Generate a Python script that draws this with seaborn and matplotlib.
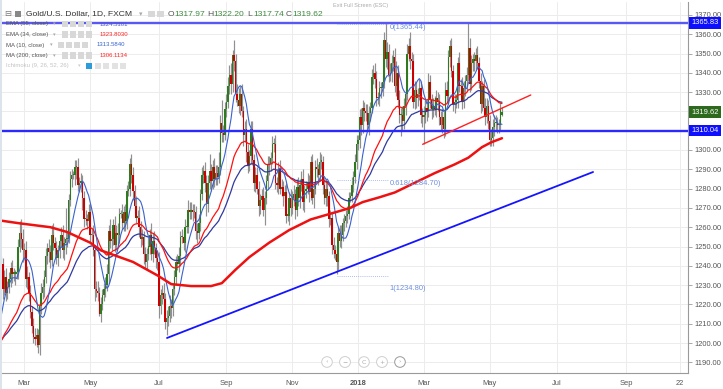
import numpy as np
import pandas as pd
import matplotlib
matplotlib.use("Agg")
import matplotlib.pyplot as plt
import matplotlib.transforms as mtrans
from matplotlib.patches import Rectangle
import seaborn as sns

# ---------------- data (daily closes, FXCM Gold/USD) ----------------
c_2016_10 = [1312,1268,1267,1253,1257, 1259,1253,1255,1257,1251, 1257,1262,1269,1264,1267, 1263,1273,1266,1268,1275, 1277]
c_2016_11 = [1288,1297,1302,1304, 1280,1275,1274,1265,1225, 1222,1225,1226,1216,1208, 1213,1212,1187,1184,1178, 1192,1188,1173]
c_2016_12 = [1170,1177, 1167,1170,1173,1171,1160, 1158,1160,1142,1128,1134, 1139,1132,1131,1130,1133, 1134,1139,1141,1158,1151]
c_2017_01 = [1161,1162,1165,1181,1172, 1184,1185,1196,1197,1196, 1203,1217,1212,1202,1210, 1217,1210,1198,1188,1191, 1195,1210]
c_2017_02 = [1210,1220,1220, 1235,1236,1241,1228,1234, 1226,1229,1233,1239,1236, 1236,1236,1237,1250,1257, 1254,1248]
c_2017_03 = [1248,1233,1234, 1226,1216,1209,1203,1202, 1204,1199,1219,1226,1229, 1234,1245,1249,1247,1243, 1256,1252,1249,1244,1248]
c_2017_04 = [1253,1256,1248,1252,1254, 1254,1274,1285,1287,1287, 1291,1291,1282,1283,1284, 1275,1264,1264,1263,1268]
c_2017_05 = [1256,1256,1248,1228,1227, 1226,1215,1220,1225,1228, 1230,1236,1258,1253,1254, 1261,1251,1257,1256,1267, 1267,1262,1268]
c_2017_06 = [1263,1279, 1280,1293,1287,1279,1271, 1265,1265,1260,1254,1255, 1246,1242,1246,1250,1256, 1246,1253,1249,1244,1242]
c_2017_07 = [1219,1225,1226,1223,1211, 1213,1214,1219,1218,1228, 1234,1242,1241,1245,1255, 1255,1252,1260,1260,1269, 1268]
c_2017_08 = [1269,1268,1268,1258, 1257,1262,1277,1287,1289, 1283,1272,1283,1289,1284, 1291,1285,1288,1286,1291, 1314,1309,1308,1321]
c_2017_09 = [1325, 1333,1339,1334,1349,1346, 1329,1326,1323,1329,1320, 1308,1311,1299,1292,1297, 1311,1295,1283,1287,1280]
c_2017_10 = [1271,1274,1276,1269,1275, 1284,1292,1293,1296,1303, 1303,1283,1282,1290,1280, 1281,1276,1278,1266,1266, 1275,1270]
c_2017_11 = [1275,1277,1269, 1281,1275,1282,1285,1273, 1279,1280,1283,1278,1294, 1275,1280,1291,1290,1287, 1294,1294,1282,1275]
c_2017_12 = [1280, 1276,1264,1265,1251,1248, 1246,1242,1257,1253,1256, 1262,1263,1266,1267,1275, 1276,1282,1286,1294,1303]
c_2018_01 = [1305,1317,1313,1322,1320, 1319,1313,1319,1322,1338, 1340,1337,1327,1327,1332, 1332,1335,1357,1347,1351, 1339,1340,1345]
c_2018_02 = [1348,1333, 1340,1326,1318,1318,1315, 1323,1329,1350,1354,1347, 1346,1325,1331,1327,1329, 1332,1318,1317]
c_2018_03 = [1318,1322, 1320,1335,1326,1321,1323, 1321,1327,1325,1317,1313, 1317,1311,1331,1328,1348, 1354,1341,1324,1325,1326]
c_2018_04 = [1345,1333,1333,1325,1332, 1336,1339,1353,1334,1345, 1347,1346,1349,1345,1336, 1324,1333,1322,1317,1323, 1315]
c_2018_05 = [1305,1306,1312,1314, 1314,1313,1313,1321,1319.62]

# upper / lower wick lengths (visible bars, Feb 2017 onward)
uw_2017_02 = [3,4,5,3,5,4,3,4,5,3,4,3,4,3,2,5,4,6,7,5]
lw_2017_02 = [4,3,5,3,4,3,5,3,4,3,3,4,5,4,6,3,4,3,5,6]
uw_2017_03 = [4,5,6,3,4,3,4,5,4,3,3,5,4,4,4,3,5,4,5,6,3,4,3]
lw_2017_03 = [5,4,5,4,3,4,3,3,4,4,5,4,3,5,3,4,5,4,3,4,5,3,4]
uw_2017_04 = [3,4,5,3,16,4,3,4,3,2,4,4,5,3,4,3,4,5,3,4]
lw_2017_04 = [4,3,4,5,6,4,2,3,4,2,5,6,3,4,5,6,4,3,4,3]
uw_2017_05 = [4,3,5,3,4,5,3,4,3,3,4,5,3,6,4,3,5,4,5,3,2,5,3]
lw_2017_05 = [4,5,3,6,3,4,1,4,3,3,4,3,5,4,5,3,4,3,5,4,2,3,4]
uw_2017_06 = [4,3,4,3,5,4,3,5,4,6,3,4,3,4,3,5,3,6,4,5,3,4]
lw_2017_06 = [5,4,3,4,4,5,4,3,4,5,4,3,5,3,4,3,4,3,4,3,5,4]
uw_2017_07 = [5,3,4,5,3,4,5,6,4,3,4,3,4,5,3,4,3,4,3,5,4]
lw_2017_07 = [6,4,5,4,4,7,4,3,5,4,3,4,3,4,5,3,4,5,3,3,4]
uw_2017_08 = [4,3,4,3,4,5,3,4,3,5,4,4,9,4,4,5,4,4,8,4,12,4,4]
lw_2017_08 = [4,5,3,4,5,3,4,3,4,5,6,4,3,5,4,4,3,4,3,4,5,4,3]
uw_2017_09 = [4,5,5,6,3,8,4,5,6,4,5,3,4,5,4,3,4,4,3,4,4]
lw_2017_09 = [4,3,4,5,4,5,4,3,4,5,3,6,4,5,4,3,4,3,4,5,3]
uw_2017_10 = [4,3,4,5,4,3,5,4,3,4,3,5,3,4,5,4,3,4,5,4,3,5]
lw_2017_10 = [5,4,4,3,8,3,4,5,4,3,4,3,4,5,3,4,5,3,4,3,5,4]
uw_2017_11 = [4,5,3,4,5,3,4,5,3,4,5,4,3,4,3,4,5,3,5,4,3,4]
lw_2017_11 = [3,4,5,3,4,5,3,4,5,4,3,5,4,3,5,3,4,5,3,4,5,3]
uw_2017_12 = [5,4,3,4,3,4,3,4,3,4,5,3,4,3,4,3,2,4,3,4,5]
lw_2017_12 = [4,5,4,3,5,4,3,6,4,3,4,3,4,3,4,3,2,3,4,3,4]
uw_2018_01 = [3,4,5,4,3,4,5,4,3,4,4,5,4,3,4,3,4,4,9,5,4,5,4]
lw_2018_01 = [3,4,5,4,5,4,3,5,4,3,4,5,4,3,4,5,4,3,4,5,4,3,5]
uw_2018_02 = [4,5,6,4,5,4,5,4,3,5,4,7,4,4,5,4,3,5,4,4]
lw_2018_02 = [4,3,5,4,4,11,5,4,5,3,4,5,4,3,4,5,4,3,4,5]
uw_2018_03 = [5,4,4,5,4,3,4,5,4,3,4,3,4,3,4,5,4,3,4,3,4,3]
lw_2018_03 = [14,4,5,3,4,5,4,3,4,5,4,3,4,5,4,3,4,5,3,4,5,3]
uw_2018_04 = [3,6,4,5,4,3,4,13,5,4,3,4,4,5,3,4,3,4,5,4,3]
lw_2018_04 = [4,3,5,4,3,4,5,3,4,3,4,5,4,3,4,5,4,3,4,3,4]
uw_2018_05 = [3,5,4,4,4,3,3,4]
lw_2018_05 = [3,3,4,5,4,4,4,3]

# last bar from the header
last_open, last_high, last_low, last_close = 1317.97, 1322.20, 1317.74, 1319.62

# MA(200) (bar offset from 1 Mar 2017, value)
ma200_bar = [-16, -3, 17, 28, 43, 50, 71, 87, 96, 109, 122, 129, 138, 147, 160,
             173, 187, 200, 213, 221, 232, 242, 255, 268, 281, 290, 299, 305, 312]
ma200_val = [1263.5, 1262, 1260, 1257.5, 1252, 1248, 1242, 1235, 1230.5, 1229.5, 1229.5,
             1231, 1238, 1244.5, 1252, 1258.5, 1264, 1267, 1270, 1273, 1275.5, 1278, 1283,
             1288, 1292.5, 1296, 1301.5, 1304, 1306.1]

legend_names = ["EMA (55, close)", "EMA (34, close)", "MA (10, close)", "MA (200, close)"]
legend_values = ["1324.5101", "1323.8030", "1313.5840", "1306.1134"]

hline_top, hline_mid = 1365.83, 1310.04
fib_levels = [1365.44, 1284.70, 1234.80]
fib_names = ["0", "0.618", "1"]
# trend lines (bar offset, price)
blue_tl_bar, blue_tl_price = [93.2, 371.5], [1202.6, 1288.6]
red_tl_bar, red_tl_price = [260.2, 330.8], [1302.95, 1328.5]
fib_bar_span = [204, 237.6]

price_ticks = list(range(1190, 1371, 10))
hidden_ticks = [1310, 1320]          # covered by the price boxes
tick_dates = ["2017-03-01", "2017-05-01", "2017-07-03", "2017-09-01", "2017-11-01", "2018-01-01",
              "2018-03-01", "2018-05-01", "2018-07-02", "2018-09-03", "2018-10-22"]
tick_labels = ["Mar", "May", "Jul", "Sep", "Nov", "2018", "Mar", "May", "Jul", "Sep", "22"]

# ---------------- build frame ----------------
close_months = [("2016-10", c_2016_10), ("2016-11", c_2016_11), ("2016-12", c_2016_12),
                ("2017-01", c_2017_01), ("2017-02", c_2017_02), ("2017-03", c_2017_03),
                ("2017-04", c_2017_04), ("2017-05", c_2017_05), ("2017-06", c_2017_06),
                ("2017-07", c_2017_07), ("2017-08", c_2017_08), ("2017-09", c_2017_09),
                ("2017-10", c_2017_10), ("2017-11", c_2017_11), ("2017-12", c_2017_12),
                ("2018-01", c_2018_01), ("2018-02", c_2018_02), ("2018-03", c_2018_03),
                ("2018-04", c_2018_04), ("2018-05", c_2018_05)]
wick_months = [(uw_2017_02, lw_2017_02), (uw_2017_03, lw_2017_03), (uw_2017_04, lw_2017_04),
               (uw_2017_05, lw_2017_05), (uw_2017_06, lw_2017_06), (uw_2017_07, lw_2017_07),
               (uw_2017_08, lw_2017_08), (uw_2017_09, lw_2017_09), (uw_2017_10, lw_2017_10),
               (uw_2017_11, lw_2017_11), (uw_2017_12, lw_2017_12), (uw_2018_01, lw_2018_01),
               (uw_2018_02, lw_2018_02), (uw_2018_03, lw_2018_03), (uw_2018_04, lw_2018_04),
               (uw_2018_05, lw_2018_05)]

dates, closes = [], []
for m, vals in close_months:
    start = pd.Timestamp(m + "-01")
    end = start + pd.offsets.MonthEnd(0)
    if m == "2018-05":
        end = pd.Timestamp("2018-05-11")
    d = pd.bdate_range(start, end)
    assert len(d) == len(vals), (m, len(d), len(vals))
    dates.extend(d)
    closes.extend(vals)

df = pd.DataFrame({"date": dates, "close": np.array(closes, dtype=float)})
all_days = pd.bdate_range("2016-10-03", "2018-12-31")
base = all_days.get_loc(pd.Timestamp("2017-03-01"))
df["i"] = np.arange(len(df)) - base
df["open"] = df["close"].shift(1)
df.loc[df.index[-1], "open"] = last_open
df["ema34"] = df["close"].ewm(span=34, adjust=False).mean()
df["ema55"] = df["close"].ewm(span=55, adjust=False).mean()
df["ma10"] = df["close"].rolling(10).mean()

uw = [v for u, l in wick_months for v in u]
lw = [v for u, l in wick_months for v in l]
vis = df[df["date"] >= pd.Timestamp("2017-02-01")].copy()
assert len(vis) == len(uw) + 1, (len(vis), len(uw))
uw_arr = np.array(uw + [0.0])
lw_arr = np.array(lw + [0.0])
top = np.maximum(vis["open"].values, vis["close"].values)
bot = np.minimum(vis["open"].values, vis["close"].values)
vis["high"] = top + uw_arr
vis["low"] = bot - lw_arr
vis.loc[vis.index[-1], "high"] = last_high
vis.loc[vis.index[-1], "low"] = last_low

tick_pos = [all_days.get_loc(pd.Timestamp(d)) - base for d in tick_dates]

# ---------------- figure ----------------
W, H = 723, 389
sns.set_style("white")
plt.rcParams["font.family"] = ["Liberation Sans", "DejaVu Sans"]
fig = plt.figure(figsize=(W / 100, H / 100), dpi=100, facecolor="white")
ax = fig.add_axes([0, 1 - 373 / H, 688 / W, 371 / H])
ax.set_facecolor("white")

x_slope, x_off = 1.531, 24.3
ax.set_xlim(-x_off / x_slope, (688 - x_off) / x_slope)
ax.set_ylim(1300 - (373 - 150) / 1.93, 1300 + (150 - 2) / 1.93)

# grid
ax.set_yticks(price_ticks)
ax.set_yticklabels(["" if v in hidden_ticks else f"{v:.2f}" for v in price_ticks])
ax.set_xticks(tick_pos)
ax.set_xticklabels(tick_labels)
ax.grid(True, color="#ececec", lw=0.7, zorder=0)
ax.set_axisbelow(True)

# candles
xi = vis["i"].values
o = vis["open"].values
c = vis["close"].values
ax.vlines(xi, vis["low"].values, vis["high"].values, color="#909090", lw=0.85, zorder=2)
up = c >= o
ax.bar(xi[up], np.maximum(c[up] - o[up], 0.6), bottom=o[up], width=0.9,
       color="#2e7a1e", lw=0, zorder=3)
ax.bar(xi[~up], np.maximum(o[~up] - c[~up], 0.6), bottom=c[~up], width=0.9,
       color="#cc0000", lw=0, zorder=3)

# moving averages
sns.lineplot(data=df, x="i", y="ema55", ax=ax, color="#2f3a9e", lw=0.9, estimator=None, sort=False, zorder=5)
sns.lineplot(data=df, x="i", y="ema34", ax=ax, color="#ff1010", lw=0.9, estimator=None, sort=False, zorder=5)
sns.lineplot(data=df, x="i", y="ma10", ax=ax, color="#3a62cf", lw=0.8, estimator=None, sort=False, zorder=5)
sns.lineplot(x=ma200_bar, y=ma200_val, ax=ax, color="#ee1111", lw=1.8, estimator=None, sort=False, zorder=5)

# horizontal levels
ax.axhline(hline_top, color="#5858f5", lw=1.7, zorder=6)
ax.axhline(hline_mid, color="#2a2aff", lw=1.7, zorder=6)

# trend lines
ax.plot(blue_tl_bar, blue_tl_price, color="#1414ff", lw=1.3, zorder=6)
ax.plot(red_tl_bar, red_tl_price, color="#ff2020", lw=1.0, zorder=6)

# fibonacci levels (label offsets in pixels)
for lvl, nm, dy in zip(fib_levels, fib_names, [-3.5, -3.5, -13]):
    ax.plot(fib_bar_span, [lvl, lvl], color="#8fa8e8", lw=0.6, ls=(0, (1, 1.5)), zorder=6)
    ax.annotate(f"{nm}({lvl:.2f})", xy=(fib_bar_span[1] + 0.9, lvl), xytext=(0, dy * 0.72),
                textcoords="offset points", ha="left", va="center", fontsize=5.4,
                color="#6e8fe0", zorder=7)

# axes styling
for s in ["top", "left"]:
    ax.spines[s].set_visible(False)
for s in ["right", "bottom"]:
    ax.spines[s].set_color("#9a9a9a")
    ax.spines[s].set_linewidth(0.8)
ax.yaxis.tick_right()
ax.tick_params(axis="y", length=3, width=0.6, color="#9a9a9a", labelsize=5.4,
               labelcolor="#555555", pad=1.5)
ax.tick_params(axis="x", length=3, width=0.6, color="#9a9a9a", labelsize=5.4,
               labelcolor="#555555", pad=2)
ax.xaxis.get_ticklabels()[5].set_fontweight("bold")
ax.set_xlabel("")
ax.set_ylabel("")
leg = ax.get_legend()
if leg:
    leg.remove()

# price boxes on the axis
bt = mtrans.blended_transform_factory(ax.transAxes, ax.transData)
for val, txt, fc in [(hline_top, "1365.83", "#0f0fff"), (last_close, "1319.62", "#2d6a1e"),
                     (hline_mid, "1310.04", "#0f0fff")]:
    ax.text(1.0 + 3.5 / 688, val, txt, transform=bt, ha="left", va="center", fontsize=5.4,
            color="white", clip_on=False, zorder=20,
            bbox=dict(boxstyle="square,pad=0.3", fc=fc, ec="none"))

# ---------------- header / legend overlay ----------------
def fx(x):
    return x / W

def fy(y):
    return 1 - y / H

def icon(x, y, fc="#d8d8d8", s=6.5):
    fig.add_artist(Rectangle((fx(x), fy(y + s / 2)), s / W, s / H, transform=fig.transFigure,
                             fc=fc, ec="none", zorder=30))

# thin left frame strip
fig.add_artist(Rectangle((0, fy(389)), 2 / W, 1, transform=fig.transFigure,
                         fc="#dde3ea", ec="none", zorder=29))

fig.text(fx(4), fy(14), "⊟", fontsize=6, color="#777777", va="center", ha="left",
         family=["DejaVu Sans"], zorder=31)
fig.add_artist(Rectangle((fx(15), fy(17)), 6 / W, 6 / H, transform=fig.transFigure,
                         fc="#888888", ec="none", zorder=30))
fig.text(fx(26), fy(14), "Gold/U.S. Dollar, 1D, FXCM", fontsize=6.1, color="#333333",
         va="center", ha="left", zorder=31)
fig.text(fx(139), fy(14), "▾", fontsize=5, color="#aaaaaa", va="center", ha="left",
         family=["DejaVu Sans"], zorder=31)
icon(148, 14)
icon(157, 14)
for xx, lab, val in [(168, "O", "1317.97"), (207, "H", "1322.20"), (247, "L", "1317.74"),
                     (286, "C", "1319.62")]:
    fig.text(fx(xx), fy(14), lab, fontsize=6.1, color="#555555", va="center", ha="left", zorder=31)
    fig.text(fx(xx + 6.5), fy(14), val, fontsize=6.1, color="#3d8b3d", va="center", ha="left", zorder=31)

fig.text(fx(361), fy(5), "Exit Full Screen (ESC)", fontsize=4, color="#aaaaaa",
         va="center", ha="center", zorder=31)

rows_y = [24, 34.5, 45, 55.5]
arrow_x = [53, 53, 50, 53]
icon_x = [62, 62, 58, 62]
val_x = [100, 100, 97, 100]
val_colors = ["#5257cc", "#ff2222", "#3a62cf", "#ff2222"]
for y, nm, v, ax_, ix, vx, vc in zip(rows_y, legend_names, legend_values, arrow_x, icon_x, val_x, val_colors):
    fig.text(fx(6), fy(y), nm, fontsize=4.3, color="#555555", va="center", ha="left", zorder=31)
    fig.text(fx(ax_), fy(y), "▾", fontsize=3.8, color="#aaaaaa", va="center", ha="left",
             family=["DejaVu Sans"], zorder=31)
    for k in range(4):
        icon(ix + 8 * k, y, s=6)
    fig.text(fx(vx), fy(y), v, fontsize=4.3, color=vc, va="center", ha="left", zorder=31)

fig.text(fx(6), fy(66), "Ichimoku (9, 26, 52, 26)", fontsize=4.3, color="#c4c4c4",
         va="center", ha="left", zorder=31)
fig.text(fx(78), fy(66), "▾", fontsize=3.8, color="#cccccc", va="center", ha="left",
         family=["DejaVu Sans"], zorder=31)
icon(86, 66, fc="#2d9cdb", s=6)
for k in range(1, 5):
    icon(86 + 8.5 * k, 66, fc="#e2e2e2", s=6)

# navigation buttons
for xx, sym, ec in [(327, "‹", "#cfcfcf"), (345, "−", "#cfcfcf"), (364, "C", "#cfcfcf"),
                    (382, "+", "#cfcfcf"), (400, "›", "#9a9a9a")]:
    fig.text(fx(xx), fy(362), sym, fontsize=4.5, color="#aaaaaa", ha="center", va="center",
             family=["DejaVu Sans"], zorder=31,
             bbox=dict(boxstyle="circle,pad=0.45", fc="white", ec=ec, lw=0.7))

fig.savefig("out.png", dpi=100, facecolor="white")
